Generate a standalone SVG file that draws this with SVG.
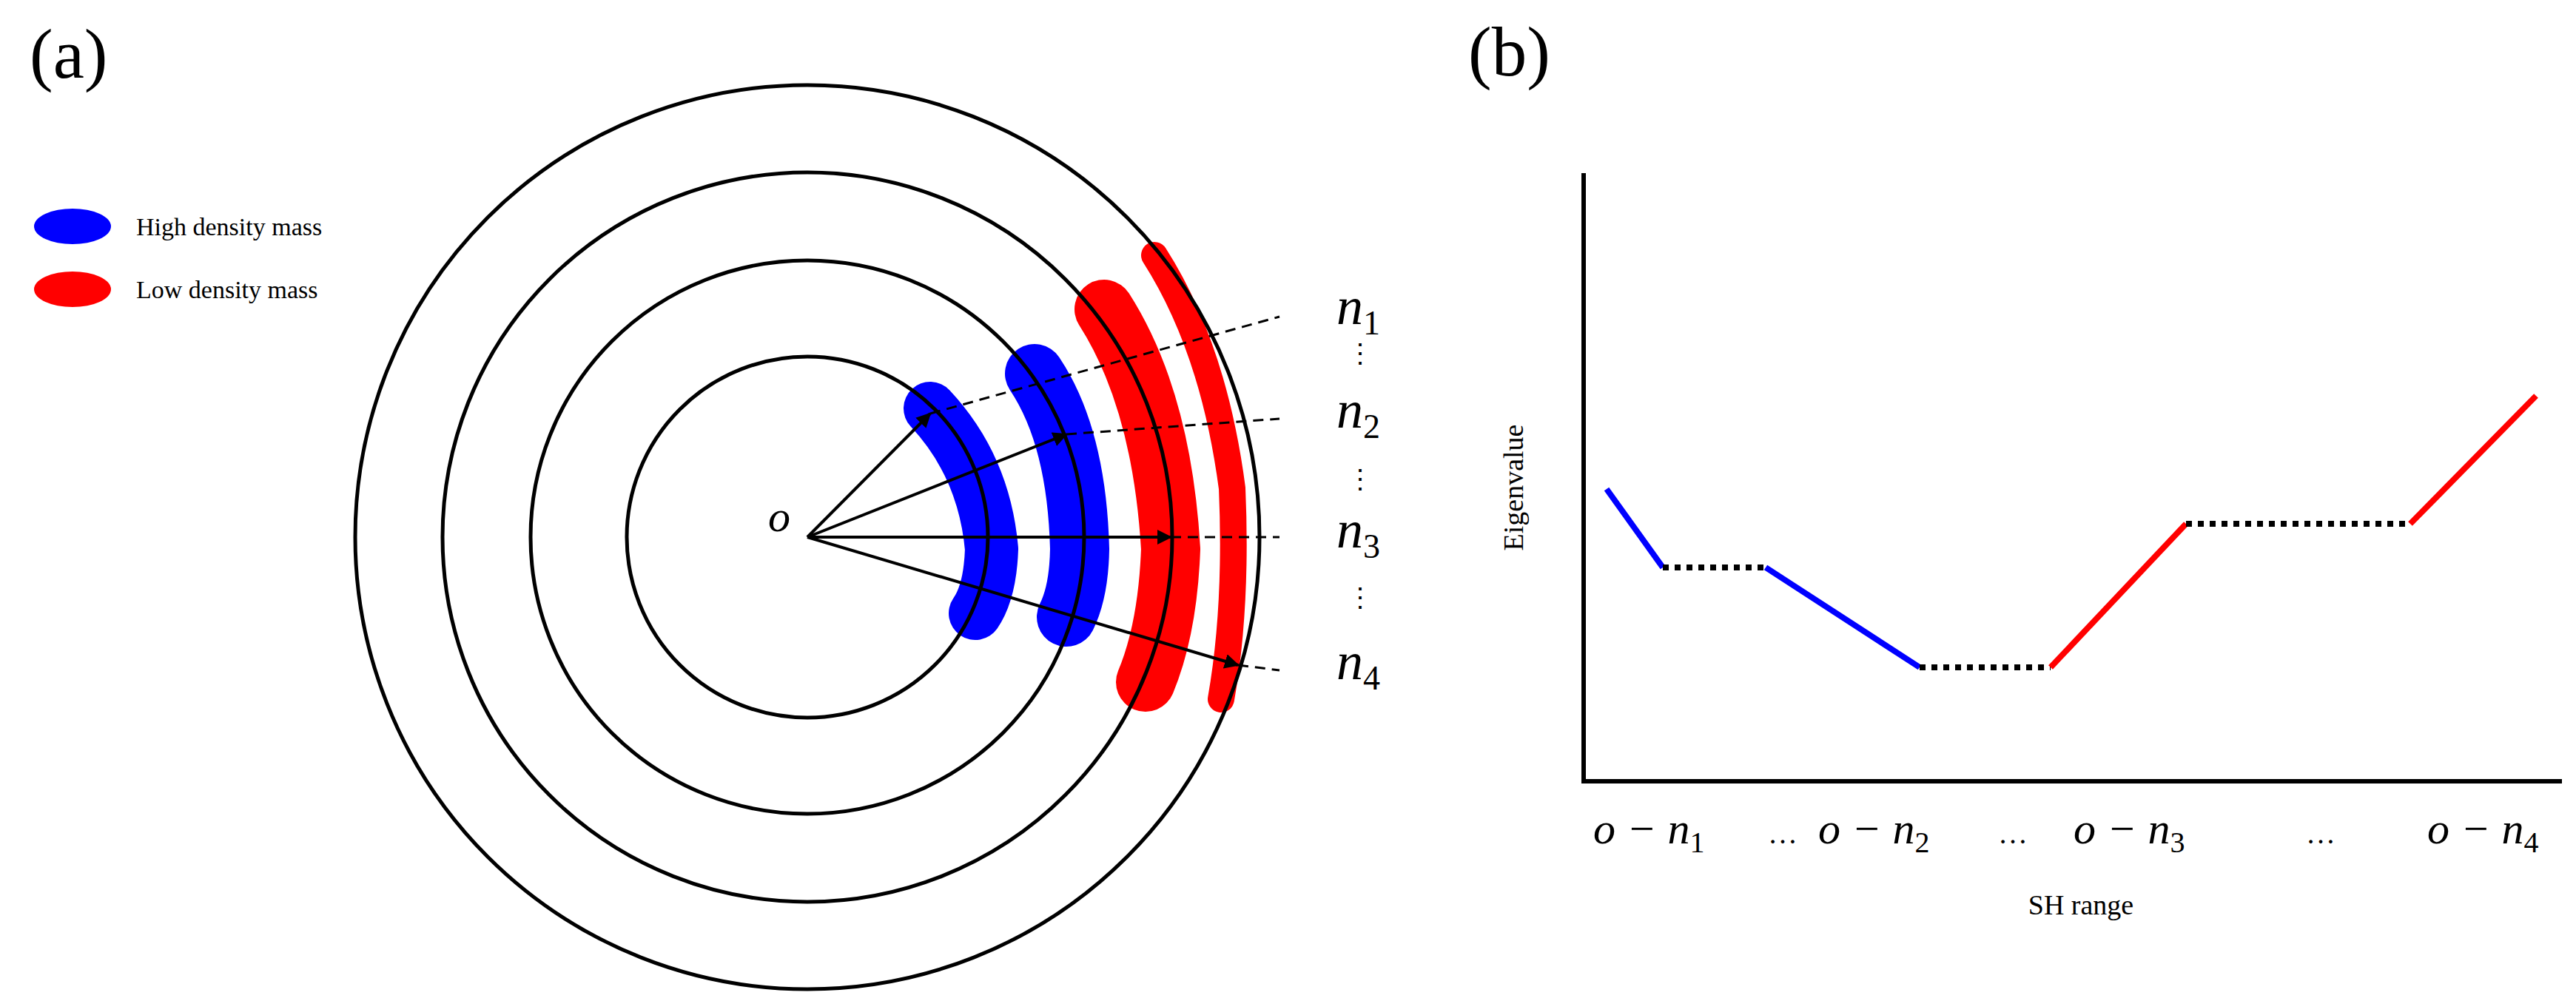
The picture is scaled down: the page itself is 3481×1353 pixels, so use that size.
<svg xmlns="http://www.w3.org/2000/svg" width="3481" height="1353" viewBox="0 0 3481 1353">
<style>
.t{font-family:"Liberation Serif",serif;fill:#000}
.m{font-family:"Liberation Serif",serif;font-style:italic;fill:#000}
.ring{fill:none;stroke:#000;stroke-width:5}
.ray{stroke:#000;stroke-width:4;marker-end:url(#ah)}
.dash{stroke:#000;stroke-width:3;stroke-dasharray:14 9}
.dot{stroke:#000;stroke-width:8;stroke-dasharray:8 8}
</style>
<defs><marker id="ah" viewBox="0 0 10 10" refX="9" refY="5" markerWidth="5" markerHeight="5" orient="auto"><path d="M0,0L10,5L0,10z"/></marker></defs>
<rect width="3481" height="1353" fill="#fff"/>
<text class="t" x="40" y="105" font-size="95">(a)</text>
<g id="legend">
<ellipse cx="98" cy="306" rx="52" ry="24" fill="#0000ff"/>
<text class="t" x="184" y="318" font-size="34">High density mass</text>
<ellipse cx="98" cy="391" rx="52" ry="24" fill="#ff0000"/>
<text class="t" x="184" y="403" font-size="34">Low density mass</text>
</g>
<g id="masses" fill="none" stroke-linecap="round" stroke-linejoin="round">
<path d="M1257,552 Q1330,630 1340,742 Q1338,800 1318,829" stroke="#0000ff" stroke-width="72"/>
<path d="M1398,505 Q1455,590 1459,742 Q1458,800 1441,834" stroke="#0000ff" stroke-width="80"/>
<path d="M1492,418 Q1570,540 1582,742 Q1578,850 1548,922" stroke="#ff0000" stroke-width="80"/>
<path d="M1560,345 Q1640,470 1665,660 Q1672,820 1650,945" stroke="#ff0000" stroke-width="36"/>
</g>
<g id="rings">
<circle class="ring" cx="1091" cy="726" r="244"/>
<circle class="ring" cx="1091" cy="726" r="374"/>
<circle class="ring" cx="1091" cy="726" r="493"/>
<circle class="ring" cx="1091" cy="726" r="611"/>
</g>
<g id="connectors">
<line class="ray" x1="1091" y1="726" x2="1257" y2="559"/>
<line class="ray" x1="1091" y1="726" x2="1441" y2="587"/>
<line class="ray" x1="1091" y1="726" x2="1582" y2="726"/>
<line class="ray" x1="1091" y1="726" x2="1673" y2="899"/>
<line class="dash" x1="1257" y1="559" x2="1729" y2="428"/>
<line class="dash" x1="1441" y1="587" x2="1729" y2="566"/>
<line class="dash" x1="1582" y1="726" x2="1729" y2="726"/>
<line class="dash" x1="1673" y1="899" x2="1729" y2="906"/>
</g>
<g id="labels-a">
<text class="m" x="1038" y="718" font-size="60">o</text>
<text class="m" x="1806" y="438" font-size="72">n<tspan font-size="46" dy="14" font-style="normal">1</tspan></text>
<text class="m" x="1806" y="578" font-size="72">n<tspan font-size="46" dy="14" font-style="normal">2</tspan></text>
<text class="m" x="1806" y="740" font-size="72">n<tspan font-size="46" dy="14" font-style="normal">3</tspan></text>
<text class="m" x="1806" y="918" font-size="72">n<tspan font-size="46" dy="14" font-style="normal">4</tspan></text>
<text class="t" x="1838" y="490" font-size="36" text-anchor="middle">⋮</text>
<text class="t" x="1838" y="660" font-size="36" text-anchor="middle">⋮</text>
<text class="t" x="1838" y="820" font-size="36" text-anchor="middle">⋮</text>
</g>
<text class="t" x="1984" y="102" font-size="95">(b)</text>
<g id="axes" stroke="#000" stroke-width="6">
<line x1="2140" y1="234" x2="2140" y2="1059"/>
<line x1="2137" y1="1056" x2="3462" y2="1056"/>
</g>
<g id="curve" fill="none" stroke-width="8">
<line x1="2171" y1="661" x2="2247" y2="767" stroke="#0000ff"/>
<line class="dot" x1="2247" y1="767" x2="2386" y2="767"/>
<line x1="2386" y1="767" x2="2594" y2="902" stroke="#0000ff"/>
<line class="dot" x1="2594" y1="902" x2="2771" y2="902"/>
<line x1="2771" y1="902" x2="2954" y2="708" stroke="#ff0000"/>
<line class="dot" x1="2954" y1="708" x2="3257" y2="708"/>
<line x1="3257" y1="708" x2="3427" y2="535" stroke="#ff0000"/>
</g>
<g id="labels-b">
<text class="t" font-size="38" transform="translate(2058,659) rotate(-90)" text-anchor="middle">Eigenvalue</text>
<text class="t" x="2812" y="1236" font-size="38" text-anchor="middle">SH range</text>
<text class="m" x="2153" y="1140" font-size="60">o − n<tspan font-size="40" dy="12" font-style="normal">1</tspan></text>
<text class="t" x="2389" y="1140" font-size="40">…</text>
<text class="m" x="2457" y="1140" font-size="60">o − n<tspan font-size="40" dy="12" font-style="normal">2</tspan></text>
<text class="t" x="2700" y="1140" font-size="40">…</text>
<text class="m" x="2802" y="1140" font-size="60">o − n<tspan font-size="40" dy="12" font-style="normal">3</tspan></text>
<text class="t" x="3116" y="1140" font-size="40">…</text>
<text class="m" x="3280" y="1140" font-size="60">o − n<tspan font-size="40" dy="12" font-style="normal">4</tspan></text>
</g>
</svg>
